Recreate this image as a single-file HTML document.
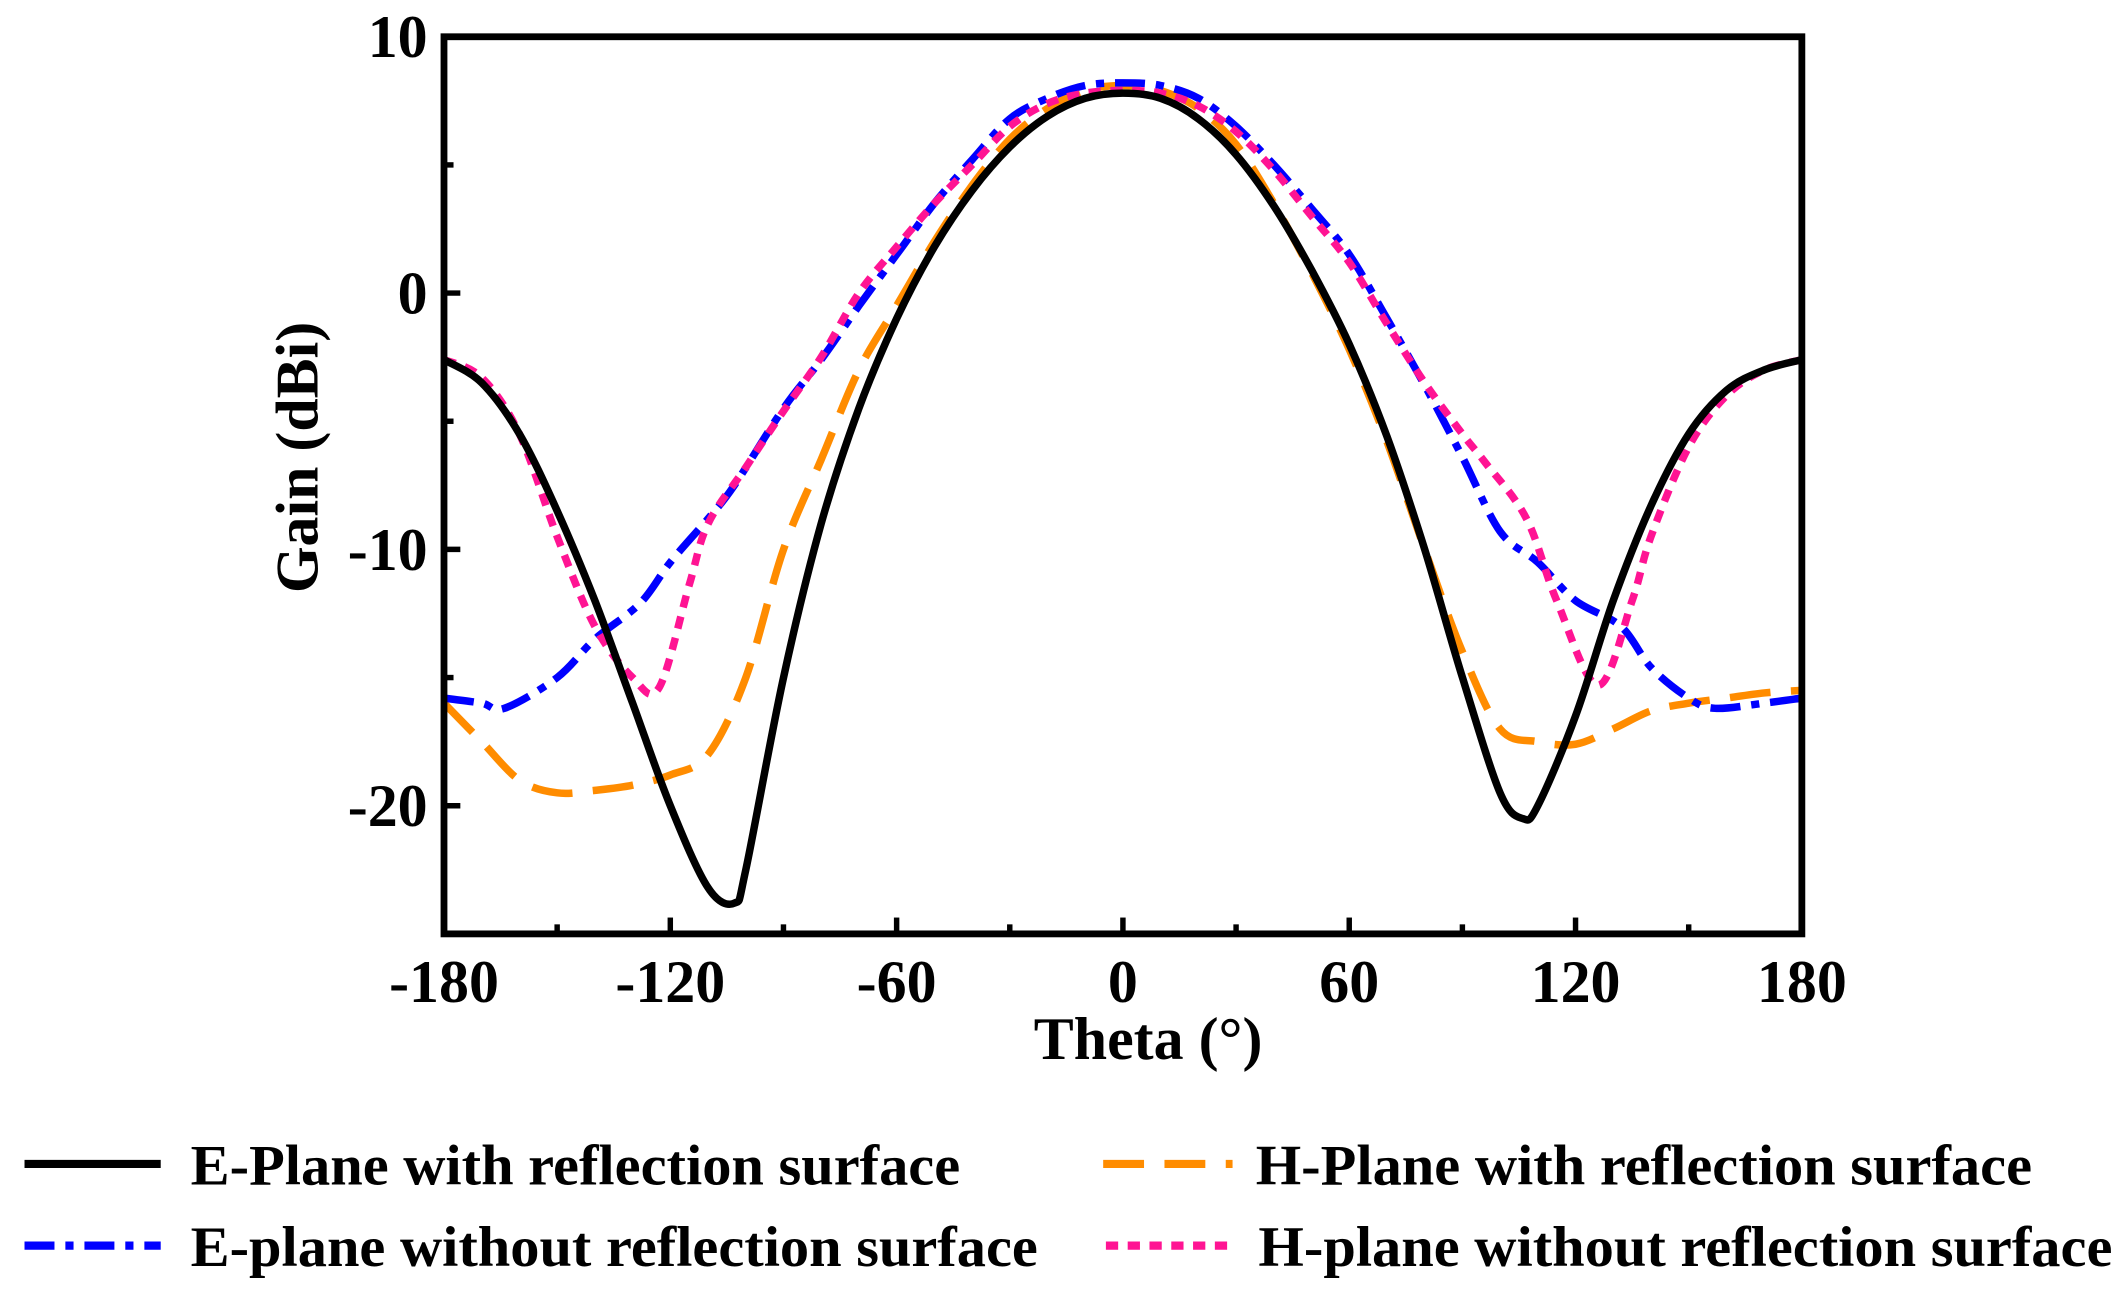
<!DOCTYPE html>
<html><head><meta charset="utf-8"><style>html,body{margin:0;padding:0;background:#fff}svg{display:block}svg text{font-family:"Liberation Serif","Times New Roman",serif;font-weight:bold}</style></head>
<body>
<svg id="chart" width="2126" height="1296" viewBox="0 0 1561 952" preserveAspectRatio="none" xmlns="http://www.w3.org/2000/svg">
<g id="series"></g>
<rect x="326" y="27" width="997" height="659" fill="none" stroke="#000" stroke-width="5"/>
<g id="ticks"></g>
<text transform="translate(233,336) rotate(-90)" text-anchor="middle" font-size="44">Gain (dBi)</text>
<text x="843" y="778" text-anchor="middle" font-size="44">Theta (°)</text>
<g font-size="42">
<line x1="18" y1="855" x2="118" y2="855" stroke="#000" stroke-width="6"/>
<text x="140" y="870" textLength="565" lengthAdjust="spacingAndGlyphs">E-Plane with reflection surface</text>
<line x1="810" y1="855" x2="905" y2="855" stroke="#ff8c00" stroke-width="6" stroke-dasharray="30,15"/>
<text x="922" y="870" textLength="570" lengthAdjust="spacingAndGlyphs">H-Plane with reflection surface</text>
<line x1="18" y1="915" x2="118" y2="915" stroke="#0000ff" stroke-width="6" stroke-dasharray="22,8,6,8"/>
<text x="140" y="930" textLength="622" lengthAdjust="spacingAndGlyphs">E-plane without reflection surface</text>
<line x1="812" y1="915" x2="905" y2="915" stroke="#ff1493" stroke-width="6" stroke-dasharray="9,7"/>
<text x="924" y="930" textLength="627" lengthAdjust="spacingAndGlyphs">H-plane without reflection surface</text>
</g>
</svg>
<script>
const thetaE1 = [-180,-170,-160,-150,-140,-130,-120,-110,-103,-100,-90,-80,-70,-60,-50,-40,-30,-20,-10,0,10,20,30,40,50,60,70,80,90,100,106,110,120,130,140,150,160,170,180];
const gainE1 = [-2.6,-3.5,-5.5,-8.5,-12,-16,-20,-23.2,-23.8,-22.5,-15,-9,-4.5,-1,1.8,4,5.7,6.9,7.6,7.8,7.6,6.8,5.4,3.4,0.9,-2,-5.6,-10,-15,-19.5,-20.5,-20,-16.5,-12,-8.3,-5.5,-3.8,-3,-2.6];
const thetaH1 = [-180,-170,-160,-150,-140,-130,-120,-110,-100,-90,-80,-70,-60,-50,-40,-30,-20,-10,0,10,20,30,40,50,60,70,80,90,100,110,120,130,140,150,160,170,180];
const gainH1 = [-16,-17.5,-19,-19.5,-19.4,-19.2,-18.8,-18,-15,-10,-6.5,-3,-0.5,2,4.2,6,7.2,7.9,8.1,7.9,7.2,5.8,3.5,0.8,-2.2,-5.8,-10,-14,-17,-17.5,-17.6,-17,-16.3,-16,-15.8,-15.6,-15.5];
const thetaE2 = [-180,-170,-164,-150,-140,-128,-120,-110,-103,-90,-80,-70,-60,-50,-40,-30,-20,-10,0,10,20,30,40,50,60,70,80,90,100,110,120,132,140,150,157,170,180];
const gainE2 = [-15.8,-16,-16.2,-15,-13.5,-12.1,-10.5,-8.8,-7.5,-4.5,-2.6,-0.5,1.5,3.5,5.2,6.8,7.6,8.1,8.2,8.1,7.6,6.5,5,3.3,1.5,-1,-3.6,-6.4,-9.3,-10.5,-12,-13,-14.6,-15.8,-16.2,-16,-15.8];
const thetaH2 = [-180,-170,-160,-150,-140,-130,-123,-115,-110,-100,-90,-80,-70,-60,-50,-40,-30,-20,-10,0,10,20,30,40,50,60,70,80,90,96,107,115,126,135,140,150,160,170,180];
const gainH2 = [-2.6,-3.3,-5.5,-9.5,-13,-15,-15.4,-11.4,-9,-6.8,-4.6,-2.5,0,1.8,3.5,5,6.5,7.4,7.8,7.9,7.8,7.3,6.3,4.8,3,1.2,-1.2,-3.5,-5.5,-6.6,-8.8,-12,-15.3,-12,-9.5,-6,-4,-3,-2.6];
const xTicks = [-180,-120,-60,0,60,120,180];
const xMinor = [-150,-90,-30,30,90,150];
const yTicks = [10,0,-10,-20];
const yMinor = [5,-5,-15];

const NS='http://www.w3.org/2000/svg';
const X0=326,X1=1323,Y0=27,Y1=686;
function xs(t){return X0+(t+180)/360*(X1-X0);}
function ys(g){return Y0+(10-g)/35*(Y1-Y0);}
function mk(tag,attrs,parent){const e=document.createElementNS(NS,tag);for(const k in attrs)e.setAttribute(k,attrs[k]);parent.appendChild(e);return e;}
function smoothPath(tx,gy){
  const p=tx.map((t,i)=>[xs(t),ys(gy[i])]);
  let d='M'+p[0][0].toFixed(1)+','+p[0][1].toFixed(1);
  for(let i=0;i<p.length-1;i++){
    const a=p[Math.max(0,i-1)],b=p[i],c=p[i+1],e=p[Math.min(p.length-1,i+2)];
    const c1=[b[0]+(c[0]-a[0])/6,b[1]+(c[1]-a[1])/6],c2=[c[0]-(e[0]-b[0])/6,c[1]-(e[1]-b[1])/6];
    d+=' C'+c1[0].toFixed(1)+','+c1[1].toFixed(1)+' '+c2[0].toFixed(1)+','+c2[1].toFixed(1)+' '+c[0].toFixed(1)+','+c[1].toFixed(1);
  }
  return d;
}
const sg=document.getElementById('series');
let el;
el=mk('path',{d:smoothPath(thetaH1,gainH1),fill:'none',stroke:'#ff8c00','stroke-width':5.5,'stroke-dasharray':'30,15'},sg);


el=mk('path',{d:smoothPath(thetaE2,gainE2),fill:'none',stroke:'#0000ff','stroke-width':5.5,'stroke-dasharray':'22,8,6,8'},sg);


el=mk('path',{d:smoothPath(thetaH2,gainH2),fill:'none',stroke:'#ff1493','stroke-width':5.5,'stroke-dasharray':'9,7'},sg);


el=mk('path',{d:smoothPath(thetaE1,gainE1),fill:'none',stroke:'#000','stroke-width':5.5},sg);



const tg=document.getElementById('ticks');
xTicks.forEach(t=>{
  el=mk('line',{x1:xs(t),x2:xs(t),y1:Y1,y2:Y1-12,stroke:'#000','stroke-width':4},tg);
  
  
  el=mk('text',{x:xs(t),y:Y1+50,'text-anchor':'middle','font-size':44},tg);
  el.textContent=t;
  
  
});
xMinor.forEach(t=>{
  el=mk('line',{x1:xs(t),x2:xs(t),y1:Y1,y2:Y1-7,stroke:'#000','stroke-width':4},tg);
  
  
});
yTicks.forEach(g=>{
  el=mk('line',{x1:X0,x2:X0+12,y1:ys(g),y2:ys(g),stroke:'#000','stroke-width':4},tg);
  
  
  el=mk('text',{x:X0-12,y:ys(g)+15,'text-anchor':'end','font-size':44},tg);
  el.textContent=g;
  
  
});
yMinor.forEach(g=>{
  el=mk('line',{x1:X0,x2:X0+7,y1:ys(g),y2:ys(g),stroke:'#000','stroke-width':4},tg);
  
  
});
</script>
</body></html>
